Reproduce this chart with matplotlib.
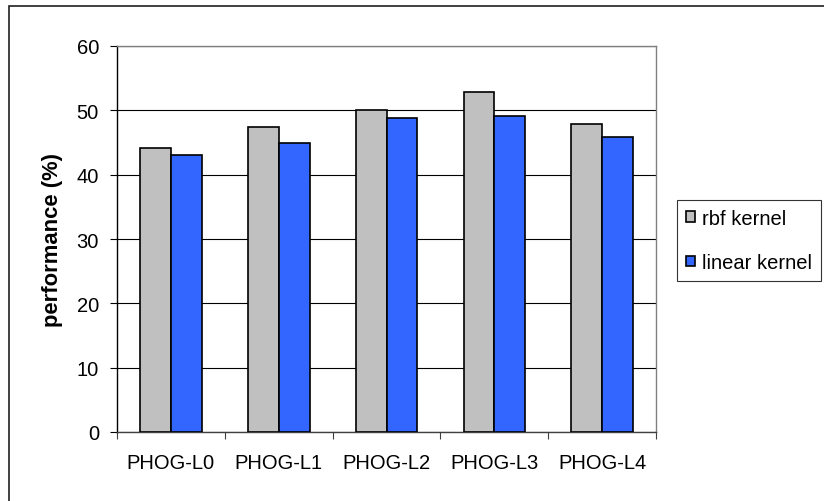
import matplotlib.pyplot as plt
import numpy as np
from matplotlib.patches import Rectangle

plt.rcParams['font.family'] = ['Liberation Sans', 'DejaVu Sans']

categories = ['PHOG-L0', 'PHOG-L1', 'PHOG-L2', 'PHOG-L3', 'PHOG-L4']
rbf_kernel = [44.1, 47.4, 50.0, 52.8, 47.8]
linear_kernel = [43.1, 45.0, 48.8, 49.1, 45.9]
y_ticks = [0, 10, 20, 30, 40, 50, 60]

fig = plt.figure(figsize=(8.24, 5.02), dpi=100)
ax = fig.add_axes([117/824, 69/502, 539/824, 386/502])

x = np.arange(len(categories))
w = 1 / 3.5
ax.bar(x - w/2, rbf_kernel, w, color='#C0C0C0', edgecolor='black', linewidth=1.2,
       label='rbf kernel', zorder=3)
ax.bar(x + w/2, linear_kernel, w, color='#3366FF', edgecolor='black', linewidth=1.2,
       label='linear kernel', zorder=3)

ax.set_xlim(-0.5, len(categories) - 0.5)
ax.set_ylim(0, 60)
ax.set_yticks(y_ticks)
ax.yaxis.grid(True, color='black', linewidth=0.8, zorder=0)
ax.set_axisbelow(True)

ax.set_xticks(x)
ax.set_xticklabels(categories)
ax.set_xticks(np.arange(len(categories) + 1) - 0.5, minor=True)
ax.tick_params(axis='x', which='major', length=0, pad=15, labelsize=14.5)
ax.tick_params(axis='x', which='minor', length=5, width=0.8, direction='out', color='#404040')
ax.tick_params(axis='y', length=5, width=0.8, direction='out', pad=8, labelsize=14.5)

ax.spines['left'].set_color('black')
ax.spines['bottom'].set_color('#404040')
ax.spines['top'].set_color('#808080')
ax.spines['right'].set_color('#808080')
for s in ax.spines.values():
    s.set_linewidth(1.0)

ax.set_ylabel('performance (%)', fontsize=15.8, fontweight='bold', labelpad=10)

leg = fig.legend(loc='upper left', bbox_to_anchor=(677/824, 1 - 201/502),
                 fontsize=14.5, frameon=True, fancybox=False, edgecolor='black',
                 handlelength=0.45, handleheight=0.45, handletextpad=0.35,
                 labelspacing=1.25, borderpad=0.45, borderaxespad=0)
leg.get_frame().set_linewidth(0.8)

# outer chart border, runs off the right and bottom edges
fig.patches.append(Rectangle((9/824, -0.05), 1.1, 1 - 7/502 + 0.05,
                             transform=fig.transFigure, fill=False,
                             edgecolor='#202020', linewidth=1.2))

fig.savefig('out.png', dpi=100)
